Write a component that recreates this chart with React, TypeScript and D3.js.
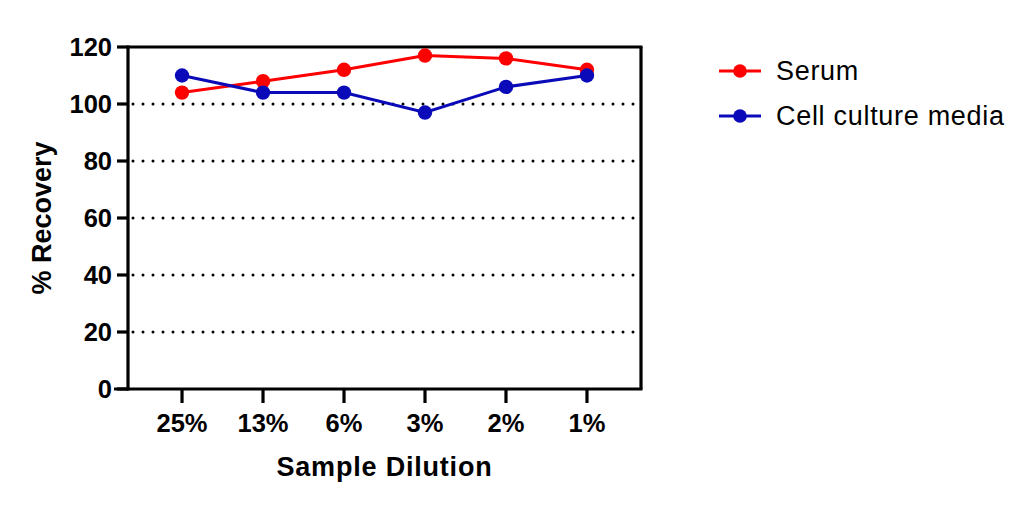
import React from "react";
import * as d3 from "d3";

const categories = ["25%", "13%", "6%", "3%", "2%", "1%"];
const serumValues = [104, 108, 112, 117, 116, 112];
const mediaValues = [110, 104, 104, 97, 106, 110];
const yTicks = [0, 20, 40, 60, 80, 100, 120];
const gridValues = [20, 40, 60, 80, 100];
const seriesNames = ["Serum", "Cell culture media"];

const W = 1031;
const H = 507;
const left = 128;
const right = 641;
const top = 47;
const bottom = 389;
const RED = "#FF0000";
const BLUE = "#0A0AB8";
const FONT = "'Liberation Sans', Arial, Helvetica, sans-serif";

export default function App() {
  const x = d3.scalePoint<string>().domain(categories).range([left, right]).padding(0.667);
  const y = d3.scaleLinear().domain([0, 120]).range([bottom, top]);

  const line = d3
    .line<number>()
    .x((_, i) => x(categories[i]) as number)
    .y((d) => y(d));

  const series = [
    { name: seriesNames[0], values: serumValues, color: RED },
    { name: seriesNames[1], values: mediaValues, color: BLUE },
  ];

  return (
    <svg
      width={W}
      height={H}
      style={{ position: "absolute", left: 0, top: 0, background: "#fff" }}
      fontFamily={FONT}
    >
      <rect x={0} y={0} width={W} height={H} fill="#fff" />
      {/* grid */}
      {gridValues.map((v) => (
        <line
          key={"g" + v}
          x1={left + 5}
          x2={right - 3}
          y1={y(v)}
          y2={y(v)}
          stroke="#000"
          strokeWidth={3}
          strokeLinecap="round"
          strokeDasharray="0 10"
        />
      ))}
      {/* frame */}
      <line x1={left} x2={right + 1.5} y1={top} y2={top} stroke="#000" strokeWidth={3.2} />
      <line x1={right} x2={right} y1={top} y2={bottom} stroke="#000" strokeWidth={3.2} />
      {/* y axis */}
      <line x1={left} x2={left} y1={top - 1.5} y2={bottom + 1.5} stroke="#000" strokeWidth={3.2} />
      {yTicks.map((v) => (
        <g key={"y" + v}>
          <line x1={left - 11} x2={left} y1={y(v)} y2={y(v)} stroke="#000" strokeWidth={3.2} />
          <text
            x={left - 16}
            y={y(v)}
            textAnchor="end"
            dominantBaseline="central"
            fontSize={25.5}
            fontWeight="bold"
            fill="#000"
          >
            {v}
          </text>
        </g>
      ))}
      {/* x axis */}
      <line x1={left - 14} x2={right + 1.5} y1={bottom} y2={bottom} stroke="#000" strokeWidth={3.2} />
      {categories.map((c) => (
        <g key={"x" + c}>
          <line
            x1={x(c) as number}
            x2={x(c) as number}
            y1={bottom}
            y2={bottom + 14}
            stroke="#000"
            strokeWidth={3.2}
          />
          <text
            x={x(c) as number}
            y={432}
            textAnchor="middle"
            fontSize={25.5}
            fontWeight="bold"
            fill="#000"
          >
            {c}
          </text>
        </g>
      ))}
      {/* axis titles */}
      <text
        x={(left + right) / 2}
        y={476}
        textAnchor="middle"
        fontSize={27}
        fontWeight="bold"
        letterSpacing={0.8}
        fill="#000"
      >
        Sample Dilution
      </text>
      <text
        transform={`translate(42,${(top + bottom) / 2}) rotate(-90)`}
        textAnchor="middle"
        dominantBaseline="central"
        fontSize={27}
        fontWeight="bold"
        fill="#000"
      >
        % Recovery
      </text>
      {/* series */}
      {series.map((s) => (
        <g key={s.name}>
          <path d={line(s.values) || ""} fill="none" stroke={s.color} strokeWidth={3} />
          {s.values.map((v, i) => (
            <circle key={i} cx={x(categories[i]) as number} cy={y(v)} r={7.2} fill={s.color} />
          ))}
        </g>
      ))}
      {/* legend */}
      {series.map((s, i) => {
        const ly = 71 + i * 45;
        return (
          <g key={"l" + s.name}>
            <line x1={719} x2={761} y1={ly} y2={ly} stroke={s.color} strokeWidth={3} />
            <circle cx={740} cy={ly} r={6.8} fill={s.color} />
            <text
              x={776}
              y={ly}
              dominantBaseline="central"
              fontSize={27}
              letterSpacing={0.7}
              fill="#000"
            >
              {s.name}
            </text>
          </g>
        );
      })}
    </svg>
  );
}
